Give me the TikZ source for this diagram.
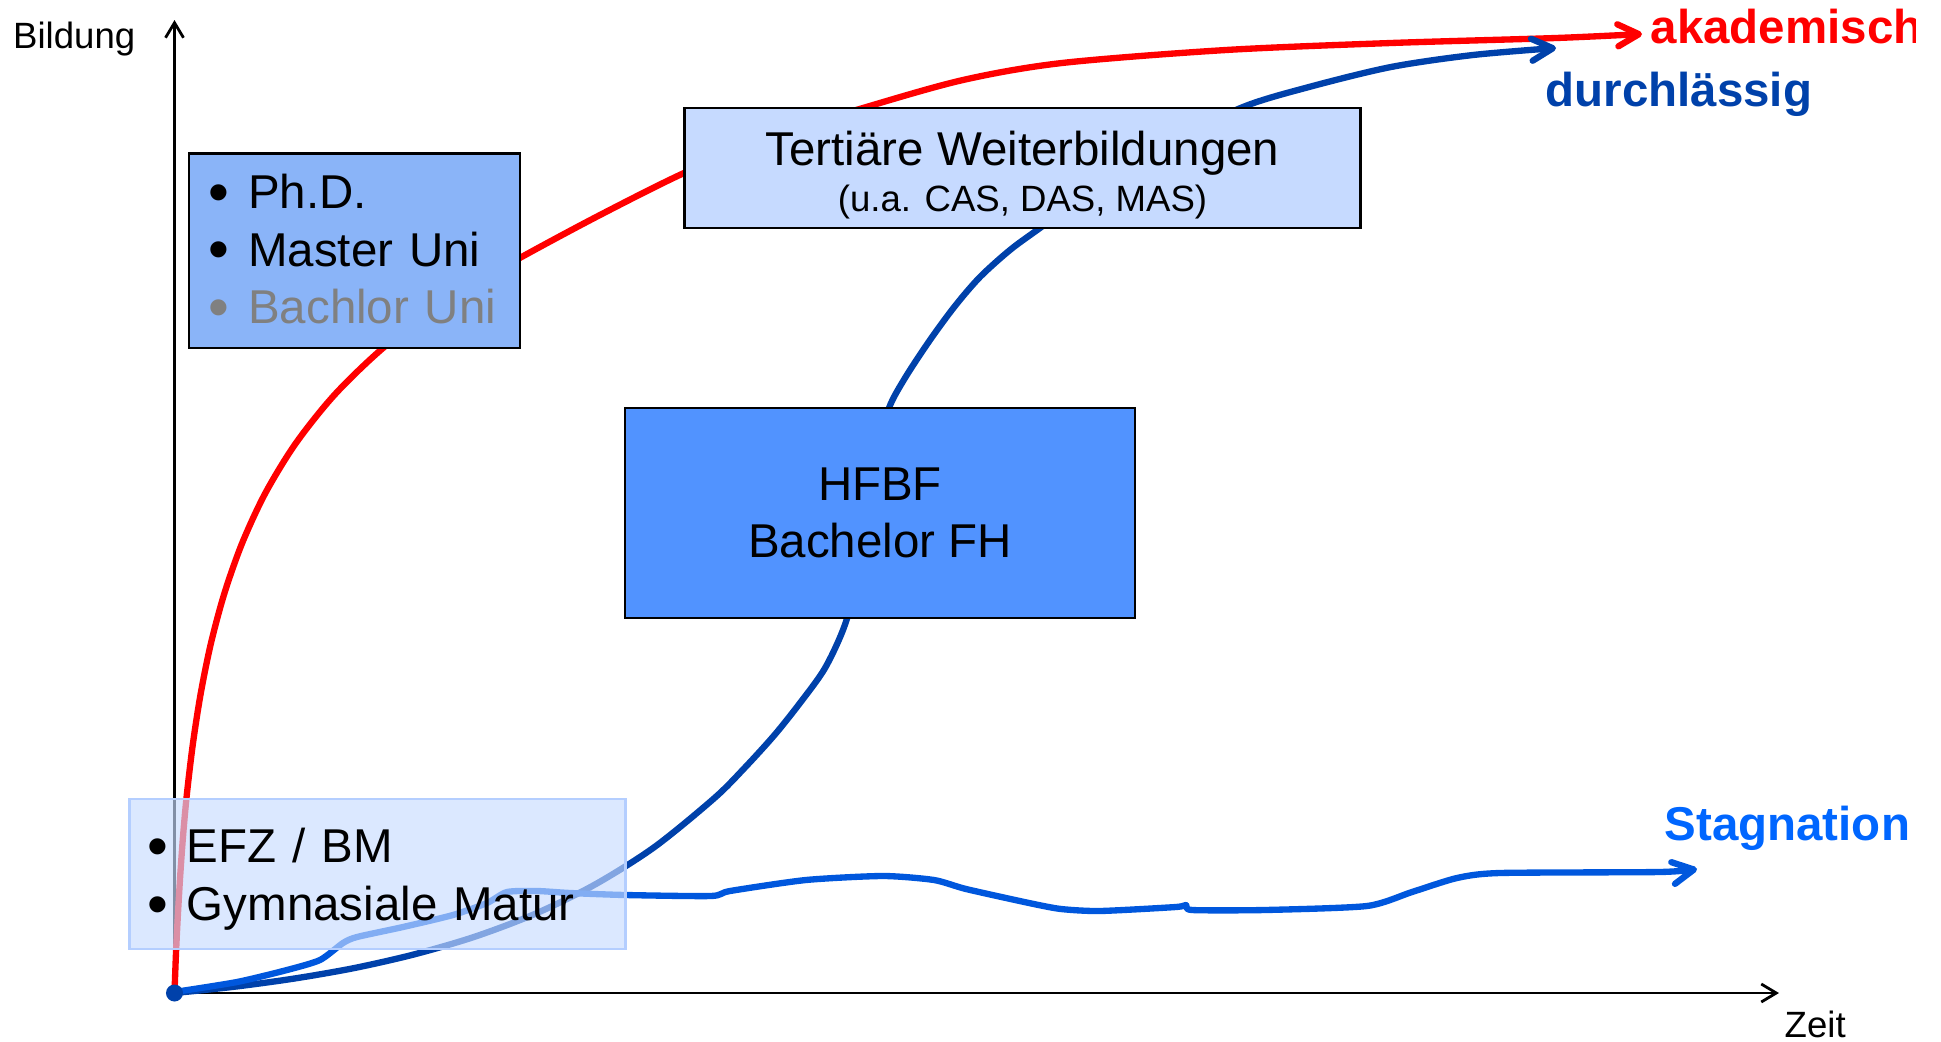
\documentclass[tikz,border=0pt]{standalone}
\usepackage{fontspec}
\setmainfont{Liberation Sans}
\usepackage{graphicx}
\usetikzlibrary{arrows.meta}
\definecolor{akadred}{HTML}{FF0000}
\definecolor{durchblue}{HTML}{0041AA}
\definecolor{stagblue}{HTML}{0057DD}
\definecolor{stagtext}{HTML}{0066FF}
\definecolor{phdblue}{HTML}{8AB4F8}
\definecolor{tertblue}{HTML}{C6DAFF}
\definecolor{hfbfblue}{HTML}{5193FF}
\definecolor{efzblue}{HTML}{C8DCFF}
\definecolor{efzedge}{HTML}{B4CEFF}
\newcommand{\bigtxt}{\fontsize{13.5}{16.4}\selectfont}
\newcommand{\smalltxt}{\fontsize{10.4}{12.5}\selectfont}
\newcommand{\itm}{\raisebox{-0.08em}{\scalebox{1.25}{\textbullet}}\hspace{0.185cm}}

\begin{document}
\begin{tikzpicture}[x=0.01cm,y=-0.01cm,
  axis/.style={draw=black,line width=0.8pt,-{Straight Barb[length=1.5mm,width=1.8mm]}},
  trend/.style={line width=1.8pt,line cap=round,line join=round,-{Straight Barb[round,length=2.1mm,width=2.2mm]}},
  box/.style={draw=black,line width=0.7pt,inner sep=0pt,font=\bigtxt},
  lbl/.style={inner sep=0pt,anchor=base west},
  tag/.style={lbl,font=\bigtxt\bfseries}]

\useasboundingbox (0,0) rectangle (1941,1042);

% axes
\coordinate (o)    at (174.5,993);
\coordinate (ytop) at (174.5,20);
\coordinate (xend) at (1779,993);
\draw[axis] (o) -- (ytop);
\draw[axis] (o) -- (xend);
\node[lbl,font=\smalltxt] (bild) at (12.5,48)  {Bildung};
\node[lbl,font=\smalltxt] (zeit) at (1784,1037) {Zeit};

% curves
\draw[trend,akadred] plot[smooth] coordinates {(174.5,993) (176,953) (178,913) (180.4,873) (183.3,833) (187,793) (193,743) (200.8,693) (211,643) (224.5,593) (242.2,543) (265.4,493) (296,443) (336.2,393) (389,343) (458.3,293) (523.4,256) (600,215) (684,173) (770,137) (863,108) (963,80) (1062,63) (1226,50) (1391,43) (1556,38) (1642,34)};
\draw[trend,durchblue] plot[smooth] coordinates {(174.5,993) (234.5,986.7) (294.5,978.5) (354.5,968) (414.5,954.3) (474.5,936.8) (534.5,914.1) (594.5,884.8) (654.5,847) (714.5,798) (744.5,768) (774.5,735) (800,703) (824.5,669) (843,630) (855,590) (863,540) (870,495) (878,450) (889,408) (905,378) (930,340) (955,306) (980,277) (1010,250) (1040,228) (1100,185) (1170,143) (1243,107) (1309,87) (1391,67) (1473,55) (1556,48)};
\draw[trend,stagblue] plot[smooth,tension=0.4] coordinates {(174.5,992) (237,982) (287,970) (320,960) (343,943) (357,937) (403,927) (453,915) (487,903) (507,892) (537,891) (570,893) (625,895) (711,896) (730,891) (806,880) (883,876) (934,880) (966,889) (1029,903) (1061,909) (1100,911) (1176,907) (1186,905) (1192,910) (1265,910) (1367,906) (1412,892) (1457,878) (1500,873) (1660,872) (1697,869)};
\fill[durchblue] (o) circle[radius=0.85mm];

% boxes
\node[box,fill=phdblue,minimum width=3.31cm,minimum height=1.945cm,text width=2.91cm,align=left] (phd) at (354.5,250.75)
  {\itm Ph.D.\\ \itm Master Uni\\ \textcolor{gray}{\itm Bachlor Uni}};
\node[box,fill=tertblue,minimum width=6.76cm,minimum height=1.2cm,align=center,text height=0.86cm,text depth=0cm] (tert) at (1022.5,168.2)
  {Tertiäre Weiterbildungen\\[-3.3pt]{\smalltxt(u.a. CAS, DAS, MAS)}};
\node[box,fill=hfbfblue,minimum width=5.1cm,minimum height=2.095cm,align=center] (hfbf) at (880,513)
  {HFBF\\Bachelor FH};
\node[box,draw=efzedge,line width=0.8pt,fill=efzblue,fill opacity=0.65,text opacity=1,minimum width=4.955cm,minimum height=1.5cm,text width=4.595cm,align=left,text depth=0.57cm] (efz) at (377.5,874)
  {\itm EFZ / BM\\ \itm Gymnasiale Matur};

% labels
\begin{scope}
  \clip (0,0) rectangle (1915,1042);
  \node[tag,akadred] (akad) at (1650,43) {akademisch};
\end{scope}
\node[tag,durchblue] (durch) at (1545,106.5) {durchlässig};
\node[tag,stagtext]  (stag)  at (1664,840) {Stagnation};
\end{tikzpicture}
\end{document}
